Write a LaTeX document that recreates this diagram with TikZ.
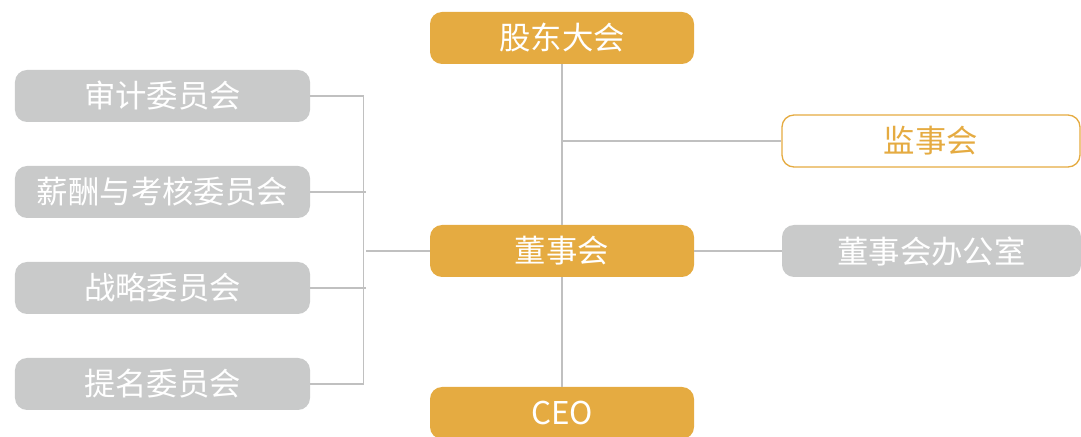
\documentclass[tikz,border=0pt]{standalone}
\usepackage{fontspec}
\setmainfont{Noto Sans CJK SC}
\definecolor{gold}{HTML}{E5AB41}
\definecolor{boxgrey}{HTML}{C9CACA}
\definecolor{linegrey}{HTML}{C0C0C0}

\begin{document}
\begin{tikzpicture}[x=1bp,y=-1bp,
    box/.style={rounded corners=12bp,minimum width=264bp,minimum height=52bp,
      inner sep=0pt,text=white,font=\fontsize{31.5}{31.5}\selectfont},
    goldbox/.style={box,fill=gold},
    greybox/.style={box,fill=boxgrey,minimum width=295bp},
    outbox/.style={box,draw=gold,line width=1.3bp,fill=white,text=gold,minimum width=298bp},
    link/.style={draw=linegrey,line width=1.2bp}]
  \useasboundingbox (0,0) rectangle (1081,437);
  %% middle column
  \node[goldbox] (gd) at (562,38) {股东大会};
  \node[goldbox] (dsh) at (562,251) {董事会};
  \node[goldbox] (ceo) at (562,413) {CEO};
  %% right column
  \node[outbox] (js) at (931,141) {监事会};
  \node[greybox,minimum width=299bp] (bgs) at (931.5,251) {董事会办公室};
  %% committees
  \node[greybox] (sj) at (162.5,96) {审计委员会};
  \node[greybox] (xc) at (162.5,192) {薪酬与考核委员会};
  \node[greybox] (zl) at (162.5,288) {战略委员会};
  \node[greybox] (tm) at (162.5,384) {提名委员会};
  %% connectors
  \coordinate (jsb) at (562,141);
  \draw[link] (gd) -- (dsh);
  \draw[link] (dsh) -- (ceo);
  \draw[link] (jsb) -- (js);
  \draw[link] (dsh) -- (bgs);
  \draw[link] (sj.east) -- ++(53,0) |- (tm.east);
  \draw[link] (xc.east) -- ++(56,0);
  \draw[link] (zl.east) -- ++(56,0);
  \draw[link] (dsh.west) -- ++(-64,0);
\end{tikzpicture}
\end{document}
